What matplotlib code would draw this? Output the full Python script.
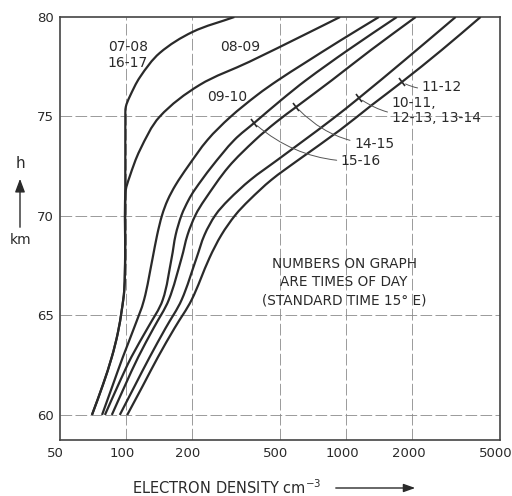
import numpy as np
import matplotlib
matplotlib.use("Agg")
import matplotlib.pyplot as plt
from matplotlib.markers import MarkerStyle
from matplotlib.transforms import Affine2D, ScaledTranslation
from matplotlib.path import Path
from matplotlib.patches import PathPatch, FancyArrowPatch

plt.rcParams['font.family'] = ['DejaVu Sans']

# ---- data: height h (km) vs electron density N (cm^-3) ----
h_0708 = [60, 61.51, 62.91, 64.12, 65.28, 66.28, 68, 75.0, 75.48, 75.98, 76.98, 78.19, 79.25, 80]
n_0708 = [70.2, 78.7, 86.4, 92.0, 95.9, 98.4, 99.3, 99.5, 100, 104, 116, 142.5, 201, 311]

h_0809 = [60, 61.51, 62.91, 64.12, 65.28, 66.28, 68, 71.16, 71.96, 73.32, 74.99, 76.58, 77.75, 79.10, 80]
n_0809 = [70.2, 78.7, 86.4, 92.0, 95.9, 98.4, 99.3, 99.6, 104, 116, 142.5, 216, 364, 645, 939]

h_0910 = [60, 61.46, 62.91, 64.37, 65.78, 67.89, 69.05, 70.05, 70.80, 71.56, 72.46, 73.82, 74.97,
          76.08, 76.83, 77.64, 78.84, 80]
n_0910 = [78, 87, 97, 109, 121, 132.4, 138.8, 146.2, 154.9, 168.4, 190.7, 234.9, 298,
          395, 492, 639, 949, 1410]

h_1516 = [60, 61.46, 62.91, 64.37, 65.78, 67.89, 69.05, 70.05, 70.80, 71.31, 72.46, 73.82, 74.72,
          75.83, 76.83, 78.34, 80]
n_1516 = [80.4, 92.0, 106.0, 125.7, 147.1, 161.5, 168.4, 179.2, 192.7, 205.4, 244.9, 311, 387,
          508, 659, 1021, 1701]

h_1415 = [60, 61.46, 62.91, 64.37, 65.78, 67.89, 69.05, 70.05, 70.80, 72.46, 73.82, 74.72, 75.48,
          76.83, 78.34, 80]
n_1415 = [86.4, 99.0, 113.9, 133.8, 156.7, 179.2, 190.7, 207.3, 227.7, 292.4, 387, 482, 594,
          864, 1297, 2072]

h_1011 = [60, 61.46, 62.91, 64.37, 65.78, 67.89, 69.05, 70.05, 70.80, 71.81, 72.81, 73.77, 74.82,
          75.93, 77.84, 80]
n_1011 = [93.9, 109.8, 128.4, 151.7, 179.2, 209.5, 227.7, 255.4, 292.4, 367.7, 487.2, 638.7, 855.3,
          1144.5, 1848.7, 3144]

h_1112 = [60, 61.46, 62.91, 64.37, 65.78, 67.89, 69.05, 70.05, 70.80, 71.81, 72.81, 74.32, 75.58,
          76.73, 78.34, 80]
n_1112 = [101.5, 119.4, 140.0, 166.6, 198.9, 239.8, 271.8, 314.5, 363.9, 457.6, 606.3, 939, 1310.8,
          1791.8, 2718, 4080.5]

curves = [(h_0708, n_0708), (h_0809, n_0809), (h_0910, n_0910), (h_1516, n_1516),
          (h_1415, n_1415), (h_1011, n_1011), (h_1112, n_1112)]

x_ticks = [50, 100, 200, 500, 1000, 2000, 5000]
y_ticks = [60, 65, 70, 75, 80]
x_grid = [100, 200, 500, 1000, 2000]
y_grid = [60, 65, 70, 75]

ink = '#2a2a2a'
grid_c = '#8a8a8a'

fig = plt.figure(figsize=(5.12, 4.96), dpi=100)
ax = fig.add_axes([59.5 / 512, 1 - 440 / 496, (500 - 59.5) / 512, (440 - 17) / 496])
ax.set_xscale('log')
ax.set_xlim(50, 5000)
ax.set_ylim(58.74, 80)

for gx in x_grid:
    ax.axvline(gx, color=grid_c, lw=0.6, ls=(0, (14, 4)), zorder=1)
for gy in y_grid:
    ax.axhline(gy, color=grid_c, lw=0.6, ls=(0, (14, 4)), zorder=1)


def smooth_path(h, n):
    """Smooth Bezier curve through the read points (drawn in log-x space)."""
    u = np.log10(n) * 221.0
    v = np.asarray(h, float) * 19.9
    P = np.column_stack([u, v])
    k = len(P)
    T = np.zeros_like(P)
    for i in range(k):
        d = P[min(i + 1, k - 1)] - P[max(i - 1, 0)]
        T[i] = d / np.hypot(*d)
    verts = [P[0]]
    codes = [Path.MOVETO]
    for i in range(k - 1):
        L = np.hypot(*(P[i + 1] - P[i]))
        verts += [P[i] + T[i] * L / 3, P[i + 1] - T[i + 1] * L / 3, P[i + 1]]
        codes += [Path.CURVE4] * 3
    verts = np.array(verts)
    data = np.column_stack([10 ** (verts[:, 0] / 221.0), verts[:, 1] / 19.9])
    return Path(data, codes)


for h, n in curves:
    ax.add_patch(PathPatch(smooth_path(h, n), fill=False, edgecolor=ink, lw=1.6, zorder=3))

ax.set_xticks(x_ticks)
ax.set_xticklabels([str(t) for t in x_ticks])
ax.set_yticks(y_ticks)
ax.set_yticklabels([str(t) for t in y_ticks])
ax.minorticks_off()
ax.tick_params(length=0, colors=ink)
ax.tick_params(axis='x', pad=5)
ax.tick_params(axis='y', pad=4)
shift = ScaledTranslation(-4 / 100, 0, fig.dpi_scale_trans)
for lab in ax.get_xticklabels():
    lab.set_transform(lab.get_transform() + shift)
    lab.set_family(['Liberation Sans Narrow', 'DejaVu Sans'])
    lab.set_fontsize(9.5)
for lab in ax.get_yticklabels():
    lab.set_family(['Liberation Sans Narrow', 'DejaVu Sans'])
    lab.set_fontsize(9.5)
for s in ax.spines.values():
    s.set_color('#444444')
    s.set_linewidth(1.2)

# curve labels
lab_kw = dict(fontsize=10, color=ink)
ax.text(102, 78.1, '07-08\n16-17', ha='center', va='center', linespacing=1.2, **lab_kw)
ax.text(331, 78.47, '08-09', ha='center', va='center', **lab_kw)
ax.text(288, 75.98, '09-10', ha='center', va='center', **lab_kw)


def tick_mark(h, n, hv):
    x = 10 ** np.interp(hv, h, np.log10(n))
    m = MarkerStyle('|', transform=Affine2D().rotate_deg(38))
    ax.plot([x], [hv], marker=m, ms=7, mew=1.2, color=ink, zorder=4)
    return x


lead_kw = dict(arrowstyle='-', color='#555555', lw=0.7, shrinkA=1, shrinkB=3)
x1 = tick_mark(h_1112, n_1112, 76.73)
ax.annotate('11-12', xy=(x1, 76.73), xytext=(2206, 76.48), ha='left', va='center',
            arrowprops=dict(connectionstyle='arc3,rad=-0.2', **lead_kw), **lab_kw)
x2 = tick_mark(h_1011, n_1011, 75.93)
ax.annotate('10-11,\n12-13, 13-14', xy=(x2, 75.93), xytext=(1610, 75.3), ha='left', va='center',
            linespacing=1.15, arrowprops=dict(connectionstyle='arc3,rad=-0.25', **lead_kw), **lab_kw)
x3 = tick_mark(h_1415, n_1415, 75.48)
ax.annotate('14-15', xy=(x3, 75.48), xytext=(1088, 73.6), ha='left', va='center',
            arrowprops=dict(connectionstyle='arc3,rad=-0.2', **lead_kw), **lab_kw)
x4 = tick_mark(h_1516, n_1516, 74.67)
ax.annotate('15-16', xy=(x4, 74.67), xytext=(947, 72.76), ha='left', va='center',
            arrowprops=dict(connectionstyle='arc3,rad=-0.2', **lead_kw), **lab_kw)

ax.text(980, 66.68, 'NUMBERS ON GRAPH\nARE TIMES OF DAY\n(STANDARD TIME 15° E)',
        ha='center', va='center', linespacing=1.4, fontsize=9.8, color=ink)

# axis labels
fig.text(132 / 512, 1 - 488 / 496, 'ELECTRON DENSITY cm$^{-3}$', ha='left', va='center',
         fontsize=10.5, color=ink)
fig.add_artist(FancyArrowPatch((333 / 512, 1 - 488 / 496), (418 / 512, 1 - 488 / 496),
               transform=fig.transFigure, arrowstyle='-|>,head_length=7,head_width=2.5',
               color=ink, lw=1.0, mutation_scale=1))
fig.text(20 / 512, 1 - 163 / 496, 'h', ha='center', va='center', fontsize=11, color=ink)
fig.add_artist(FancyArrowPatch((20 / 512, 1 - 230 / 496), (20 / 512, 1 - 176 / 496),
               transform=fig.transFigure, arrowstyle='-|>,head_length=8,head_width=3',
               color=ink, lw=1.0, mutation_scale=1))
fig.text(21 / 512, 1 - 240 / 496, 'km', ha='center', va='center', fontsize=10, color=ink)

fig.savefig('out.png', dpi=100)
